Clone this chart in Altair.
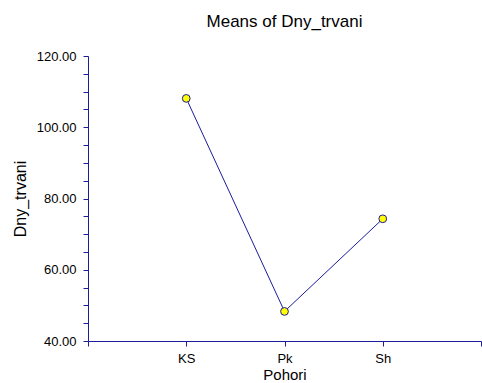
import altair as alt
import pandas as pd

categories = ["KS", "Pk", "Sh"]
positions = [1, 2, 3]
means = [108.1, 48.3, 74.3]

df = pd.DataFrame({"cat": categories, "pos": positions, "mean": means})

blue = "#1c1c9c"
font = "Liberation Sans"

x = alt.X(
    "pos:Q",
    scale=alt.Scale(domain=[0, 4], nice=False, zero=False),
    axis=alt.Axis(
        title="Pohori",
        values=[0, 1, 2, 3, 4],
        labelExpr="datum.value == 1 ? 'KS' : datum.value == 2 ? 'Pk' : datum.value == 3 ? 'Sh' : ''",
        grid=False,
        domainColor=blue,
        tickColor=blue,
        tickSize=5,
        labelColor="black",
        labelFontSize=13,
        labelFont=font,
        labelPadding=6,
        titleFont=font,
        titleFontSize=15,
        titleFontWeight="normal",
        titleColor="black",
        titlePadding=2,
        labelOverlap=False,
    ),
)
y = alt.Y(
    "mean:Q",
    scale=alt.Scale(domain=[40, 120], nice=False, zero=False),
    axis=alt.Axis(
        title="Dny_trvani",
        values=list(range(40, 121, 5)),
        labelExpr="datum.value % 20 == 0 ? format(datum.value, '.2f') : ''",
        grid=False,
        domainColor=blue,
        tickColor=blue,
        tickSize=5,
        labelColor="black",
        labelFontSize=13,
        labelFont=font,
        labelPadding=7,
        labelOverlap=False,
        titleFont=font,
        titleFontSize=16,
        titleFontWeight="normal",
        titleColor="black",
        titlePadding=8,
    ),
)

line = alt.Chart(df).mark_line(color=blue, strokeWidth=1).encode(x=x, y=y)
pts = alt.Chart(df).mark_point(
    filled=False, fill="#ffff00", fillOpacity=1, stroke=blue, strokeWidth=1, size=60, opacity=1
).encode(x=x, y=y)

chart = (
    (line + pts)
    .properties(
        width=393,
        height=285,
        title=alt.TitleParams(
            "Means of Dny_trvani", font=font, fontSize=17, fontWeight="normal", color="black",
            anchor="middle", offset=19,
        ),
        autosize=alt.AutoSizeParams(type="none"),
        padding={"left": 88, "top": 56, "right": 1, "bottom": 42},
        background="white",
    )
    .configure_view(stroke=None)
)

chart.save("out.html", embed_options={"renderer": "svg", "actions": False})
